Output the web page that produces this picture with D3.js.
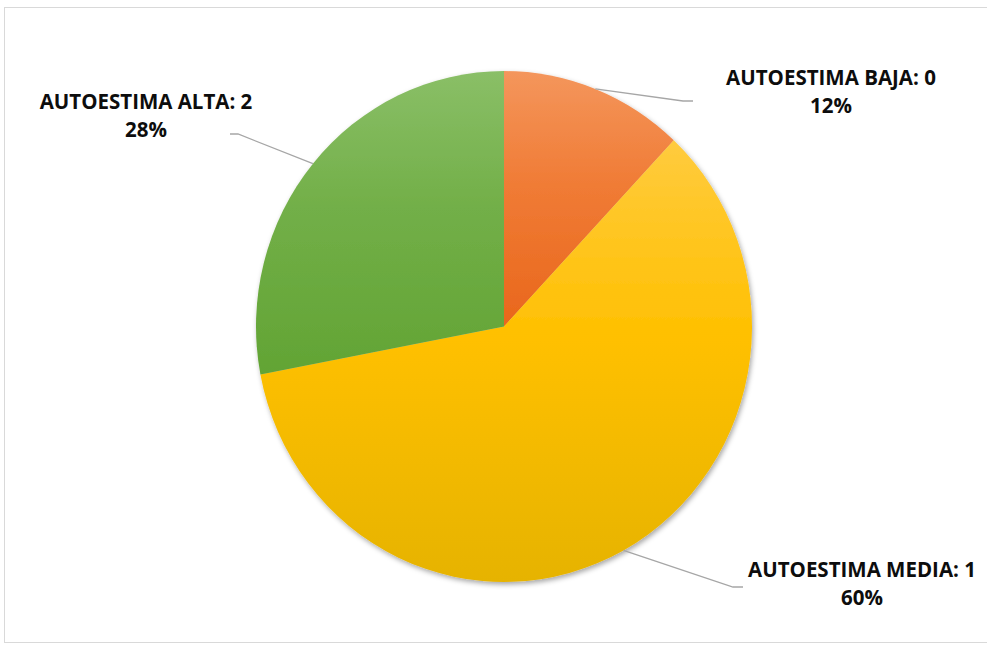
<!DOCTYPE html>
<html>
<head>
<meta charset="utf-8">
<script src="https://cdn.jsdelivr.net/npm/d3@7"></script>
<style>
  body { margin: 0; background: #fff; }
  text { font-family: "Open Sans", sans-serif; font-weight: 700; }
</style>
</head>
<body>
<div id="chart"></div>
<script>
// Chart data
const categories = ["AUTOESTIMA BAJA", "AUTOESTIMA MEDIA", "AUTOESTIMA ALTA"];
const codes = [0, 1, 2];
const percents = [12, 60, 28];

const width = 987;
const height = 645;

// pie is a bit squashed horizontally in the picture
const cx = 504, cy = 326.5;
const ry = 255.5;
const sx = 248 / 255.5;

// top, middle, bottom of each slice gradient
const colors = [
  ["#F4965C", "#F07B35", "#E9671C"],
  ["#FFCB3E", "#FFC000", "#E6B300"],
  ["#8ABF67", "#72AF48", "#62A434"]
];

// label anchor (centre of text) and end of leader line
const labelPos = [
  { x: 831, y: 85, lineEnd: [683, 101], elbow: [693, 101] },
  { x: 862, y: 577, lineEnd: [733, 587], elbow: [743, 587] },
  { x: 146, y: 109, lineEnd: [238, 134], elbow: [230, 134] }
];

const svg = d3.select("#chart")
  .append("svg")
  .attr("width", width)
  .attr("height", height);

const defs = svg.append("defs");

colors.forEach((c, i) => {
  const g = defs.append("linearGradient")
    .attr("id", "grad" + i)
    .attr("x1", 0).attr("y1", 0)
    .attr("x2", 0).attr("y2", 1);
  g.append("stop").attr("offset", "0%").attr("stop-color", c[0]);
  g.append("stop").attr("offset", "45%").attr("stop-color", c[1]);
  g.append("stop").attr("offset", "100%").attr("stop-color", c[2]);
});

const shadow = defs.append("filter")
  .attr("id", "shadow")
  .attr("x", "-10%").attr("y", "-10%")
  .attr("width", "120%").attr("height", "120%");
shadow.append("feDropShadow")
  .attr("dx", 1.5).attr("dy", 2.5)
  .attr("stdDeviation", 2.5)
  .attr("flood-color", "#000")
  .attr("flood-opacity", 0.35);

// outer frame
svg.append("rect")
  .attr("x", 4.5).attr("y", 7.5)
  .attr("width", 985).attr("height", 635)
  .attr("fill", "none")
  .attr("stroke", "#D9D9D9")
  .attr("stroke-width", 1);

const data = categories.map((c, i) => ({ cat: c, code: codes[i], pct: percents[i], i }));

const pie = d3.pie()
  .value(d => d.pct)
  .sort(null);

const arcs = pie(data);

const arc = d3.arc()
  .innerRadius(0)
  .outerRadius(ry);

const pieG = svg.append("g")
  .attr("transform", `translate(${cx},${cy}) scale(${sx},1)`)
  .attr("filter", "url(#shadow)");

pieG.selectAll("path")
  .data(arcs)
  .enter()
  .append("path")
  .attr("d", arc)
  .attr("fill", d => `url(#grad${d.data.i})`);

// leader lines
const line = d3.line();
svg.selectAll(".leader")
  .data(arcs)
  .enter()
  .append("path")
  .attr("class", "leader")
  .attr("d", d => {
    const a = (d.startAngle + d.endAngle) / 2;
    const start = [cx + ry * sx * Math.sin(a), cy - ry * Math.cos(a)];
    const p = labelPos[d.data.i];
    return line([start, p.lineEnd, p.elbow]);
  })
  .attr("fill", "none")
  .attr("stroke", "#A6A6A6")
  .attr("stroke-width", 1.3);

// labels
const labels = svg.selectAll(".label")
  .data(arcs)
  .enter()
  .append("text")
  .attr("class", "label")
  .attr("text-anchor", "middle")
  .attr("font-size", "20.5px")
  .attr("fill", "#0D0D0D");

labels.append("tspan")
  .attr("x", d => labelPos[d.data.i].x)
  .attr("y", d => labelPos[d.data.i].y)
  .text(d => `${d.data.cat}: ${d.data.code}`);

labels.append("tspan")
  .attr("x", d => labelPos[d.data.i].x)
  .attr("y", d => labelPos[d.data.i].y + 28)
  .text(d => `${d.data.pct}%`);
</script>
</body>
</html>
